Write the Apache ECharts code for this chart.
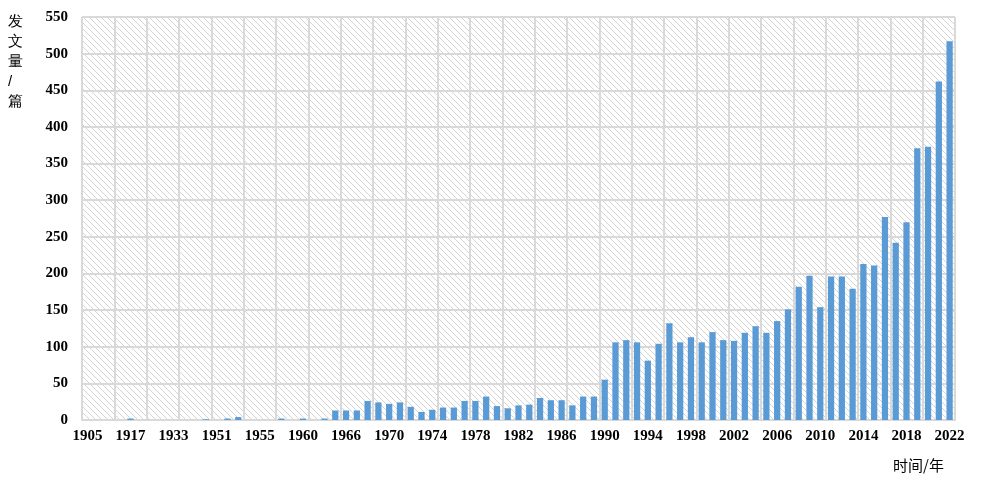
<!DOCTYPE html>
<html>
<head>
<meta charset="utf-8">
<script src="https://cdn.jsdelivr.net/npm/echarts@6/dist/echarts.min.js"></script>
<style>
html, body {margin: 0; padding: 0; background: #fff;}
#chart {width: 986px; height: 500px;}
</style>
</head>
<body>
<div id="chart"></div>
<script>
// early years are sparse, from 1960s on every year
const earlyYears = ['1905', '1908', '1912', '1914', '1917', '1920', '1925', '1930', '1933', '1937', '1942', '1946',
    '1951', '1952', '1953', '1954', '1955', '1956', '1957', '1958', '1960', '1962', '1963', '1965'];
const earlyValues = [0, 0, 0, 0, 2, 0, 0, 0, 0, 0, 0, 1, 0, 2, 4, 0, 0, 0, 2, 0, 2, 0, 2, 13];
const lateValues = [13, 13, 26, 24, 22, 24, 18, 11, 14, 17, 17, 26, 26, 32,
    19, 16, 20, 21, 30, 27, 27, 20, 32, 32,
    55, 106, 109, 106, 81, 104, 132, 106, 113, 106,
    120, 109, 108, 119, 128, 119, 135, 151, 182, 197,
    154, 196, 196, 179, 213, 211, 277, 242, 270, 371, 373, 462, 517];
const lateYears = lateValues.map((v, i) => String(1966 + i));

const years = earlyYears.concat(lateYears);
const counts = earlyValues.concat(lateValues);

// diagonal hatch used as plot background
function makeHatch (){
    const c = document.createElement('canvas');
    c.width = 6; c.height = 6;
    const ctx = c.getContext('2d');
    ctx.fillStyle = '#ffffff';
    ctx.fillRect(0, 0, 6, 6);
    ctx.strokeStyle = '#d4d4d4';
    ctx.lineWidth = 1;
    ctx.beginPath();
    ctx.moveTo(-1, -1); ctx.lineTo(7, 7);
    ctx.moveTo(-1, 5); ctx.lineTo(1, 7);
    ctx.moveTo(5, -1); ctx.lineTo(7, 1);
    ctx.stroke();
    return c;
}

const chart = echarts.init(document.getElementById('chart'));
const serif = '"Liberation Serif", "Times New Roman", serif';
chart.setOption({
    animation: false,
    grid: {
        left: 82, right: 31, top: 17, bottom: 80,
        show: true,
        backgroundColor: {image: makeHatch(), repeat: 'repeat'},
        borderColor: '#d9d9d9',
        borderWidth: 1
    },
    xAxis: {
        type: 'category',
        data: years,
        axisLine: {lineStyle: {color: '#d9d9d9', width: 2}},
        axisTick: {show: false},
        axisLabel: {
            interval: 3,
            color: '#000',
            fontFamily: serif,
            fontWeight: 'bold',
            fontSize: 15,
            margin: 9
        },
        splitLine: {show: true, interval: 2, lineStyle: {color: '#d9d9d9', width: 2}}
    },
    yAxis: {
        type: 'value',
        min: 0,
        max: 550,
        interval: 50,
        axisLine: {show: false},
        axisTick: {show: false},
        axisLabel: {
            color: '#000',
            fontFamily: serif,
            fontWeight: 'bold',
            fontSize: 15,
            margin: 14
        },
        splitLine: {lineStyle: {color: '#d9d9d9', width: 2}}
    },
    graphic: [
        {
            type: 'text', left: 8, top: 12,
            style: {text: '发\n文\n量\n/\n篇', fontSize: 15, lineHeight: 20, fill: '#000',
                font: 'bold 15px "Noto Sans CJK SC", serif'}
        },
        {
            type: 'text', left: 893, top: 458,
            style: {text: '时间/年', fill: '#000', font: '15px "Noto Sans CJK SC", serif'}
        }
    ],
    series: [{
        type: 'bar',
        data: counts,
        barCategoryGap: '42%',
        itemStyle: {color: '#5b9bd5'}
    }]
});
</script>
</body>
</html>
